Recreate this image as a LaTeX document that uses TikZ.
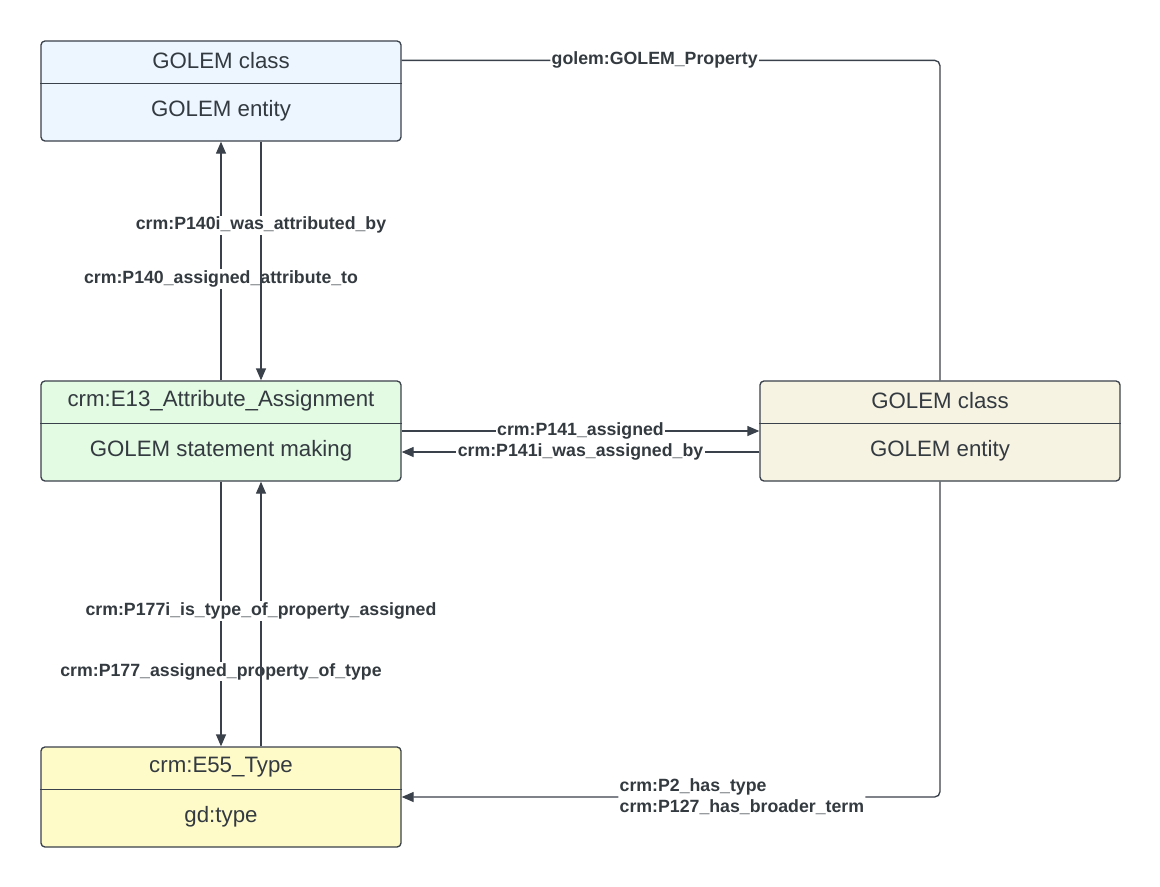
\documentclass[tikz,border=0pt]{standalone}
\usepackage{fontspec}
\setmainfont{Liberation Sans}
\usetikzlibrary{arrows.meta}
\definecolor{linec}{HTML}{3A414A}
\definecolor{textc}{HTML}{333A40}
\definecolor{bluef}{HTML}{EDF5FF}
\definecolor{greenf}{HTML}{E3FAE3}
\definecolor{yellowf}{HTML}{FFFBC9}
\definecolor{beigef}{HTML}{F7F3E3}
\tikzset{
  classbox/.style={draw=linec, line width=1pt, rounded corners=3pt, minimum width=270pt, minimum height=75pt, inner sep=0pt},
  boxtext/.style={text=textc, font=\fontsize{16.7}{20}\selectfont, inner sep=0pt},
  divider/.style={draw=linec, line width=1pt},
  conn/.style={draw=linec, line width=1pt},
  arr/.style={conn, -{Triangle[length=9pt, width=7.5pt]}},
  lbl/.style={fill=white, text=textc, font=\fontsize{13.3}{15.75}\selectfont\bfseries, inner sep=1pt}
}
\begin{document}
\begin{tikzpicture}[x=0.75pt, y=-0.75pt]
\useasboundingbox (0,0) rectangle (1160,886);
% boxes
\node[classbox, fill=bluef] (gc) at (221,91) {};
\draw[divider] ([yshift=-32.25pt]gc.north west) -- ([yshift=-32.25pt]gc.north east);
\node[boxtext] (gc-t) at ([yshift=-15.5pt]gc.north) {GOLEM class};
\node[boxtext] (gc-b) at ([yshift=-52.5pt]gc.north) {GOLEM entity};

\node[classbox, fill=greenf] (e13) at (221,431) {};
\draw[divider] ([yshift=-32.25pt]e13.north west) -- ([yshift=-32.25pt]e13.north east);
\node[boxtext] (e13-t) at ([yshift=-15.5pt]e13.north) {crm:E13\_Attribute\_Assignment};
\node[boxtext] (e13-b) at ([yshift=-52.5pt]e13.north) {GOLEM statement making};

\node[classbox, fill=yellowf] (type) at (221,797) {};
\draw[divider] ([yshift=-32.25pt]type.north west) -- ([yshift=-32.25pt]type.north east);
\node[boxtext] (type-t) at ([yshift=-15.5pt]type.north) {crm:E55\_Type};
\node[boxtext] (type-b) at ([yshift=-52.5pt]type.north) {gd:type};

\node[classbox, fill=beigef] (ge) at (940,431) {};
\draw[divider] ([yshift=-32.25pt]ge.north west) -- ([yshift=-32.25pt]ge.north east);
\node[boxtext] (ge-t) at ([yshift=-15.5pt]ge.north) {GOLEM class};
\node[boxtext] (ge-b) at ([yshift=-52.5pt]ge.north) {GOLEM entity};

% connectors
\coordinate (prop-start) at ([yshift=-15pt]gc.north east);
\draw[conn, rounded corners=4pt] (prop-start) -- node[lbl, pos=0.47] {golem:GOLEM\_Property} (prop-start -| ge.north) -- (ge.north);
\draw[arr] (e13.north) -- node[lbl, pos=0.425] {crm:P140\_assigned\_attribute\_to} (gc.south);
\draw[arr] ([xshift=30pt]gc.south) -- node[lbl, pos=0.35] {crm:P140i\_was\_attributed\_by} ([xshift=30pt]e13.north);
\draw[arr] (e13.east) -- node[lbl, pos=0.5] {crm:P141\_assigned} (ge.west);
\draw[arr] ([yshift=-15.75pt]ge.west) -- node[lbl, pos=0.5] {crm:P141i\_was\_assigned\_by} ([yshift=-15.75pt]e13.east);
\draw[arr] (e13.south) -- node[lbl, pos=0.718] {crm:P177\_assigned\_property\_of\_type} (type.north);
\draw[arr] ([xshift=30pt]type.north) -- node[lbl, pos=0.511] {crm:P177i\_is\_type\_of\_property\_assigned} ([xshift=30pt]e13.south);
\draw[arr, rounded corners=4pt] (ge.south) |- node[lbl, pos=0.684, align=left] {crm:P2\_has\_type\\crm:P127\_has\_broader\_term} (type.east);
\end{tikzpicture}
\end{document}
